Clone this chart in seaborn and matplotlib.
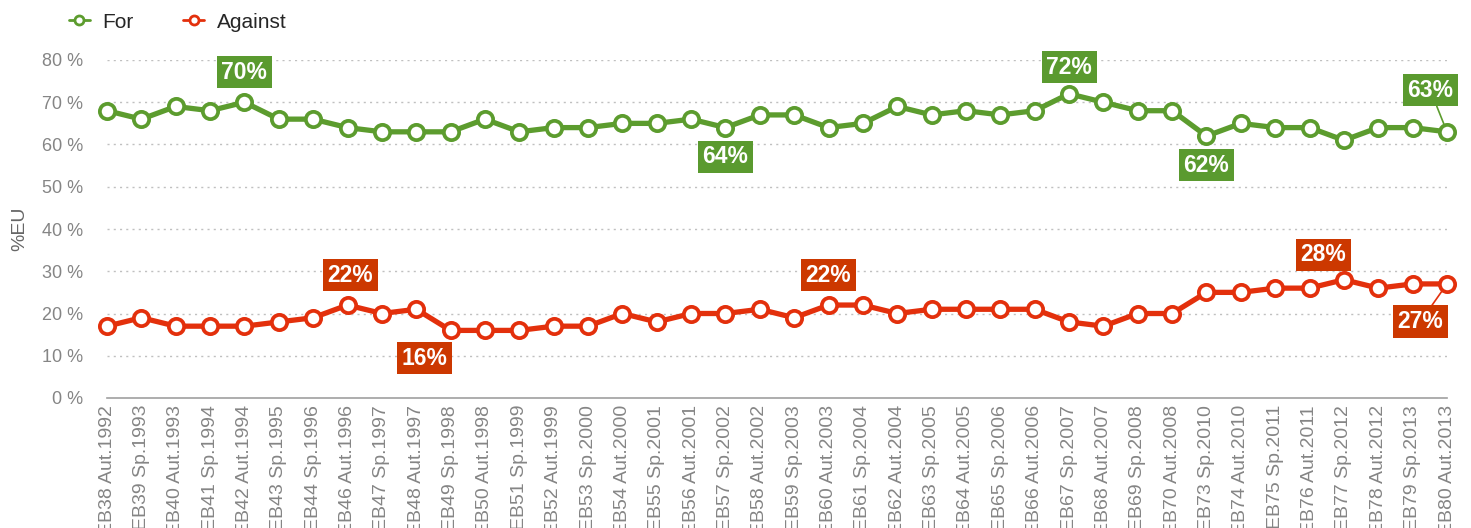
import pandas as pd
import seaborn as sns
import matplotlib
matplotlib.use("Agg")
import matplotlib.pyplot as plt
from matplotlib.lines import Line2D

waves = ["EB38 Aut.1992", "EB39 Sp.1993", "EB40 Aut.1993", "EB41 Sp.1994", "EB42 Aut.1994",
         "EB43 Sp.1995", "EB44 Sp.1996", "EB46 Aut.1996", "EB47 Sp.1997", "EB48 Aut.1997",
         "EB49 Sp.1998", "EB50 Aut.1998", "EB51 Sp.1999", "EB52 Aut.1999", "EB53 Sp.2000",
         "EB54 Aut.2000", "EB55 Sp.2001", "EB56 Aut.2001", "EB57 Sp.2002", "EB58 Aut.2002",
         "EB59 Sp.2003", "EB60 Aut.2003", "EB61 Sp.2004", "EB62 Aut.2004", "EB63 Sp.2005",
         "EB64 Aut.2005", "EB65 Sp.2006", "EB66 Aut.2006", "EB67 Sp.2007", "EB68 Aut.2007",
         "EB69 Sp.2008", "EB70 Aut.2008", "EB73 Sp.2010", "EB74 Aut.2010", "EB75 Sp.2011",
         "EB76 Aut.2011", "EB77 Sp.2012", "EB78 Aut.2012", "EB79 Sp.2013", "EB80 Aut.2013"]

for_vals = [68, 66, 69, 68, 70, 66, 66, 64, 63, 63, 63, 66, 63, 64, 64, 65, 65, 66, 64, 67,
            67, 64, 65, 69, 67, 68, 67, 68, 72, 70, 68, 68, 62, 65, 64, 64, 61, 64, 64, 63]
against_vals = [17, 19, 17, 17, 17, 18, 19, 22, 20, 21, 16, 16, 16, 17, 17, 20, 18, 20, 20, 21,
                19, 22, 22, 20, 21, 21, 21, 21, 18, 17, 20, 20, 25, 25, 26, 26, 28, 26, 27, 27]

# indices of the points that carry a value box
for_labels = [4, 18, 28, 32, 39]
against_labels = [7, 10, 21, 36, 39]

green = "#5c9c2e"
green_box = "#5a9a2f"
red = "#e3300c"
red_box = "#cc3800"

df = pd.DataFrame({
    "idx": list(range(len(waves))) * 2,
    "value": for_vals + against_vals,
    "series": ["For"] * len(waves) + ["Against"] * len(waves),
})

sns.set_style("white")
plt.rcParams["font.family"] = ["Liberation Sans", "DejaVu Sans"]

fig = plt.figure(figsize=(14.71, 5.28), dpi=100)
ax = fig.add_axes([107 / 1471, 130 / 528, 1340 / 1471, 338 / 528])

sns.lineplot(data=df, x="idx", y="value", hue="series", palette={"For": green, "Against": red},
             marker="o", markersize=11, markerfacecolor="white", markeredgewidth=2.7,
             linewidth=3.8, legend=False, ax=ax, clip_on=False, zorder=3)
for ln in ax.lines:
    ln.set_markeredgecolor(ln.get_color())

ax.set_xlim(0, len(waves) - 1)
ax.set_ylim(0, 80)
ax.set_yticks(range(0, 81, 10))
ax.set_yticklabels([f"{v} %" for v in range(0, 81, 10)], fontsize=13, color="#858585")
ax.set_xticks(range(len(waves)))
ax.set_xticklabels(waves, rotation=90, fontsize=14, color="#858585", va="top")
ax.tick_params(axis="y", length=0, pad=17)
ax.tick_params(axis="x", length=0, pad=5)
ax.set_xlabel("")
ax.set_ylabel("%EU", fontsize=14, color="#666666", labelpad=10)

for y in range(10, 81, 10):
    ax.axhline(y, color="#c0c0c0", lw=1.0, ls=(0, (1.5, 3)), zorder=1)
for s in ["top", "right", "left"]:
    ax.spines[s].set_visible(False)
ax.spines["bottom"].set_color("#a0a0a0")
ax.spines["bottom"].set_linewidth(1.2)

# offsets in points for the value boxes
for_offsets = {4: (0, 21.5), 18: (0, -21), 28: (0, 19), 32: (0, -21), 39: (-12, 30)}
against_offsets = {7: (2, 21.5), 10: (-19, -20), 21: (0, 21.5), 36: (-15, 18), 39: (-19, -27)}

def label(i, vals, off, box_color, line_color):
    connect = i == len(waves) - 1
    ax.annotate(f"{vals[i]}%", xy=(i, vals[i]), xytext=off, textcoords="offset points",
                ha="center", va="center", fontsize=16.5, fontweight="bold", color="white",
                bbox=dict(boxstyle="square,pad=0.2", fc=box_color, ec="none"),
                arrowprops=dict(arrowstyle="-", color=line_color, lw=1.2, shrinkA=0, shrinkB=5)
                if connect else None,
                zorder=5, annotation_clip=False)

for i in for_labels:
    label(i, for_vals, for_offsets[i], green_box, green)
for i in against_labels:
    label(i, against_vals, against_offsets[i], red_box, red)

handles = [Line2D([0], [0], color=green, lw=2, marker="o", markersize=6.5,
                  markerfacecolor="white", markeredgewidth=2),
           Line2D([0], [0], color=red, lw=2, marker="o", markersize=6.5,
                  markerfacecolor="white", markeredgewidth=2)]
fig.legend(handles, ["For", "Against"], loc="center left", bbox_to_anchor=(50 / 1471, 1 - 22 / 528),
           ncol=2, frameon=False, fontsize=15, handlelength=1.0, handletextpad=0.6,
           columnspacing=2.4)

fig.savefig("out.png", dpi=100)
